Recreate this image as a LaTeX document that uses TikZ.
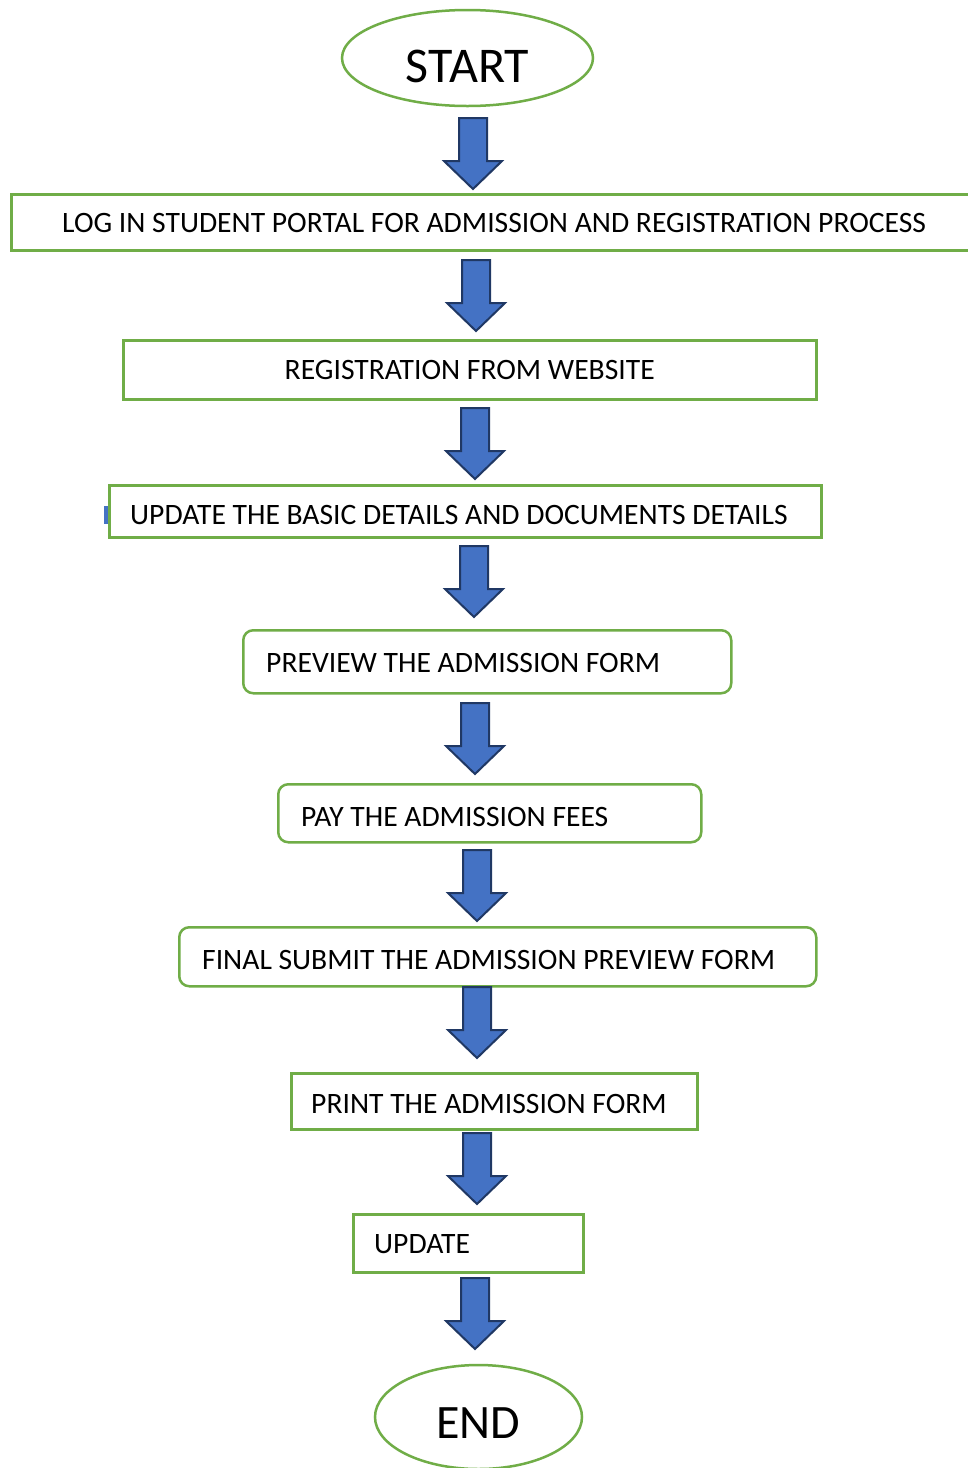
\documentclass[tikz,border=0pt]{standalone}
\usepackage{fontspec}
\setmainfont{Carlito}
\usetikzlibrary{shapes.geometric}
\definecolor{boxgreen}{HTML}{70AD47}
\definecolor{arrowfill}{HTML}{4472C4}
\definecolor{arrowline}{HTML}{203864}
\tikzset{
  flowbox/.style={draw=boxgreen, line width=2.5pt, fill=white, inner sep=0pt, anchor=north west},
  roundbox/.style={flowbox, rounded corners=10pt},
  termbox/.style={ellipse, draw=boxgreen, line width=2.5pt, fill=white, inner sep=0pt},
  txt/.style={inner sep=0pt, font=\fontsize{29.6}{35}\selectfont, text=black},
  starttxt/.style={inner sep=0pt, font=\fontsize{50}{58}\selectfont, text=black},
  endtxt/.style={inner sep=0pt, font=\fontsize{48}{56}\selectfont, text=black},
  arrowstyle/.style={fill=arrowfill, draw=arrowline, line width=2pt, line join=miter},
  darrow/.pic={\path[arrowstyle] (-14,0) -- (14,0) -- (14,43) -- (29,43) -- (0,71) -- (-29,43) -- (-14,43) -- cycle;}
}
\begin{document}
\begin{tikzpicture}[x=1pt,y=-1pt]
\useasboundingbox (0,0) rectangle (968,1468);
\clip (0,0) rectangle (968,1468);
\fill[white] (0,0) rectangle (968,1468);

% START
\node[termbox, minimum width=251pt, minimum height=96pt] (start) at (467.5,58) {};
\node[starttxt] at ([yshift=-8pt]start.center) {START};

% boxes
\node[flowbox, minimum width=965pt, minimum height=56pt] (b1) at (10,193) {};
\node[txt, anchor=west] at ([xshift=52pt,yshift=-1pt]b1.west) {LOG IN STUDENT PORTAL FOR ADMISSION AND REGISTRATION PROCESS};

\node[flowbox, minimum width=693pt, minimum height=59pt] (b2) at (122,339) {};
\node[txt] at (b2.center) {REGISTRATION FROM WEBSITE};

\fill[arrowfill] (104,506) rectangle (108,524);
\node[flowbox, minimum width=712pt, minimum height=52pt] (b3) at (108,484) {};
\node[txt, anchor=west] at ([xshift=22pt,yshift=-4pt]b3.west) {UPDATE THE BASIC DETAILS AND DOCUMENTS DETAILS};

\node[roundbox, minimum width=488pt, minimum height=63pt] (b4) at (242,629) {};
\node[txt, anchor=west] at ([xshift=24pt,yshift=-1pt]b4.west) {PREVIEW THE ADMISSION FORM};

\node[roundbox, minimum width=423pt, minimum height=58pt] (b5) at (277,783) {};
\node[txt, anchor=west] at ([xshift=24pt,yshift=-4pt]b5.west) {PAY THE ADMISSION FEES};

\node[roundbox, minimum width=637pt, minimum height=59pt] (b6) at (178,926) {};
\node[txt, anchor=west] at ([xshift=24pt,yshift=-3pt]b6.west) {FINAL SUBMIT THE ADMISSION PREVIEW FORM};

\node[flowbox, minimum width=406pt, minimum height=56pt] (b7) at (290,1072) {};
\node[txt, anchor=west] at ([xshift=21pt,yshift=-3pt]b7.west) {PRINT THE ADMISSION FORM};

\node[flowbox, minimum width=230pt, minimum height=58pt] (b8) at (352,1213) {};
\node[txt, anchor=west] at ([xshift=22pt,yshift=-1pt]b8.west) {UPDATE};

% END
\node[termbox, minimum width=207pt, minimum height=104pt] (end) at (478.5,1417) {};
\node[endtxt] at ([yshift=-6pt]end.center) {END};

% block arrows
\pic at (473,118) {darrow};
\pic at (476,260) {darrow};
\pic at (475,408) {darrow};
\pic at (474,546) {darrow};
\pic at (475,703) {darrow};
\pic at (477,850) {darrow};
\pic at (477,987) {darrow};
\pic at (477,1133) {darrow};
\pic at (475,1278) {darrow};
\end{tikzpicture}
\end{document}
